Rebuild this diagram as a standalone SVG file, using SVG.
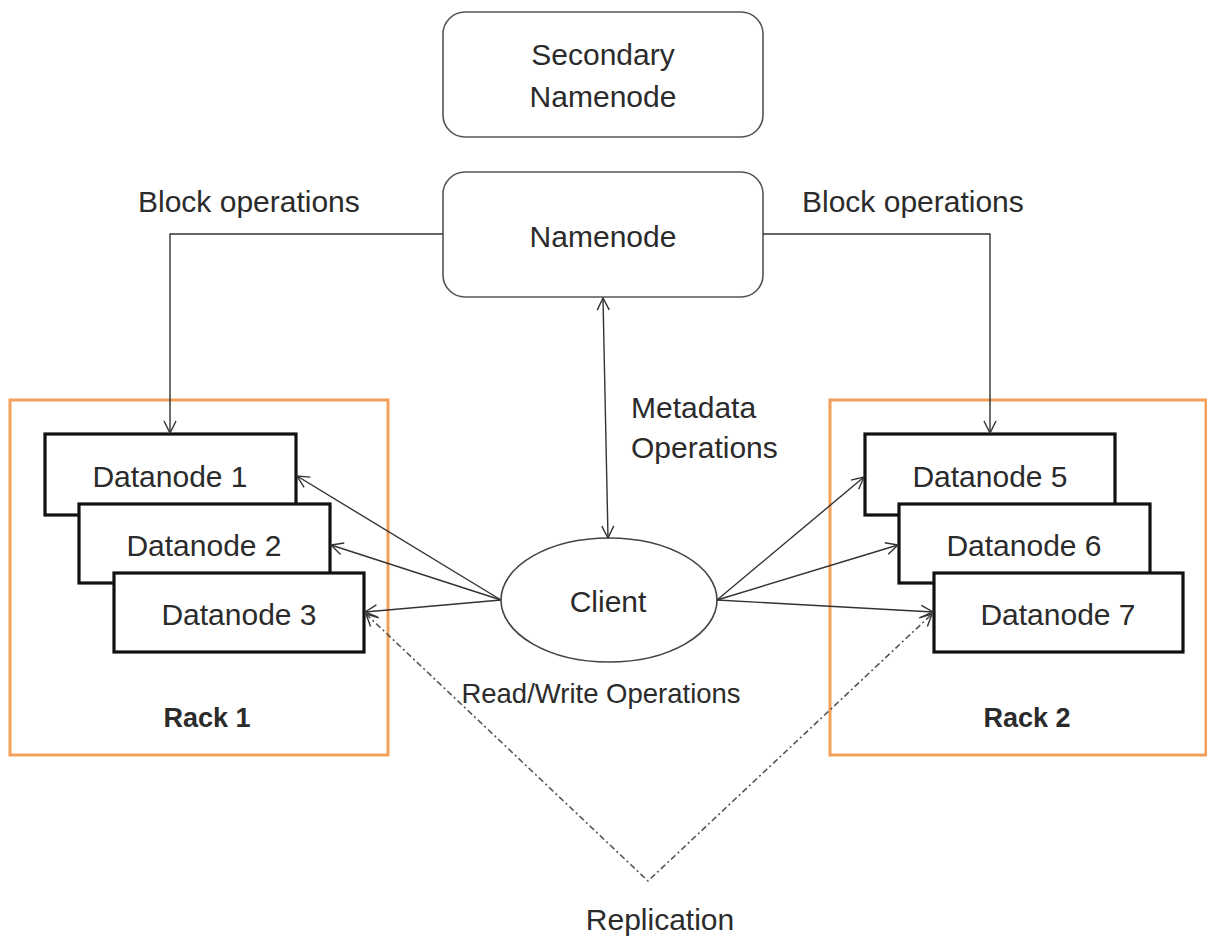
<svg xmlns="http://www.w3.org/2000/svg" width="1207" height="938" viewBox="0 0 1207 938">
<style>
text{font-family:"Liberation Sans",Arial,sans-serif;fill:#2b2b2b}
.lbl{font-size:30px}
.rw{font-size:27.5px}
.dn{font-size:30px;text-anchor:middle}
.rack{font-size:27px;font-weight:bold;text-anchor:middle}
.rbox{fill:#fff;stroke:#555;stroke-width:1.6}
.rackbox{fill:#fff;stroke:#f5a05a;stroke-width:3}
.dbox{fill:#fff;stroke:#111;stroke-width:3.2}
.conn{fill:none;stroke:#333;stroke-width:1.4}
.rep{fill:none;stroke:#555;stroke-width:1.6;stroke-dasharray:6 3 2 3}
</style>
<defs>
<marker id="arr" viewBox="0 0 14 14" refX="13" refY="7" markerWidth="14" markerHeight="14" markerUnits="userSpaceOnUse" orient="auto-start-reverse">
<path d="M1,1 L13,7 L1,13" fill="none" stroke="#333" stroke-width="1.4"/>
</marker>
</defs>
<rect width="1207" height="938" fill="#fff"/>
<g id="secondary-namenode">
<rect class="rbox" x="443" y="12" width="320" height="125" rx="22"/>
<text class="lbl" x="603" y="65" text-anchor="middle">Secondary</text>
<text class="lbl" x="603" y="107" text-anchor="middle">Namenode</text>
</g>
<g id="namenode">
<rect class="rbox" x="443" y="172" width="320" height="125" rx="22"/>
<text class="lbl" x="603" y="247" text-anchor="middle">Namenode</text>
</g>
<g id="rack1">
<rect class="rackbox" x="10" y="400" width="378" height="355"/>
<text class="rack" x="207" y="727">Rack 1</text>
</g>
<g id="datanode1">
<rect class="dbox" x="45" y="434" width="251" height="81"/>
<text class="dn" x="170" y="487">Datanode 1</text>
</g>
<g id="datanode2">
<rect class="dbox" x="79" y="504" width="251" height="79"/>
<text class="dn" x="204" y="556">Datanode 2</text>
</g>
<g id="datanode3">
<rect class="dbox" x="114" y="573" width="250" height="79"/>
<text class="dn" x="239" y="625">Datanode 3</text>
</g>
<g id="rack2">
<rect class="rackbox" x="830" y="400" width="376" height="355"/>
<text class="rack" x="1027" y="727">Rack 2</text>
</g>
<g id="datanode5">
<rect class="dbox" x="865" y="434" width="250" height="81"/>
<text class="dn" x="990" y="487">Datanode 5</text>
</g>
<g id="datanode6">
<rect class="dbox" x="899" y="504" width="251" height="79"/>
<text class="dn" x="1024" y="556">Datanode 6</text>
</g>
<g id="datanode7">
<rect class="dbox" x="934" y="573" width="249" height="79"/>
<text class="dn" x="1058" y="625">Datanode 7</text>
</g>
<g id="client">
<ellipse cx="609" cy="600" rx="108" ry="62" fill="#fff" stroke="#444" stroke-width="1.6"/>
<text class="lbl" x="608" y="612" text-anchor="middle">Client</text>
</g>
<g id="connectors">
<path class="conn" d="M443,234 H170 V433" marker-end="url(#arr)"/>
<path class="conn" d="M763,234 H990 V433" marker-end="url(#arr)"/>
<path class="conn" d="M603,298 L608,538" marker-start="url(#arr)" marker-end="url(#arr)"/>
<path class="conn" d="M501,600 L297,476" marker-end="url(#arr)"/>
<path class="conn" d="M501,600 L331,545" marker-end="url(#arr)"/>
<path class="conn" d="M501,600 L365,612" marker-end="url(#arr)"/>
<path class="conn" d="M717,600 L864,477" marker-end="url(#arr)"/>
<path class="conn" d="M717,600 L898,545" marker-end="url(#arr)"/>
<path class="conn" d="M717,600 L933,612" marker-end="url(#arr)"/>
<path class="rep" d="M366,614 L648,881 L932,614" marker-start="url(#arr)" marker-end="url(#arr)"/>
</g>
<g id="labels">
<text class="lbl" x="138" y="212">Block operations</text>
<text class="lbl" x="802" y="212">Block operations</text>
<text class="lbl" x="631" y="418">Metadata</text>
<text class="lbl" x="631" y="458">Operations</text>
<text class="rw" x="601" y="703" text-anchor="middle">Read/Write Operations</text>
<text class="lbl" x="660" y="930" text-anchor="middle">Replication</text>
</g>
</svg>
